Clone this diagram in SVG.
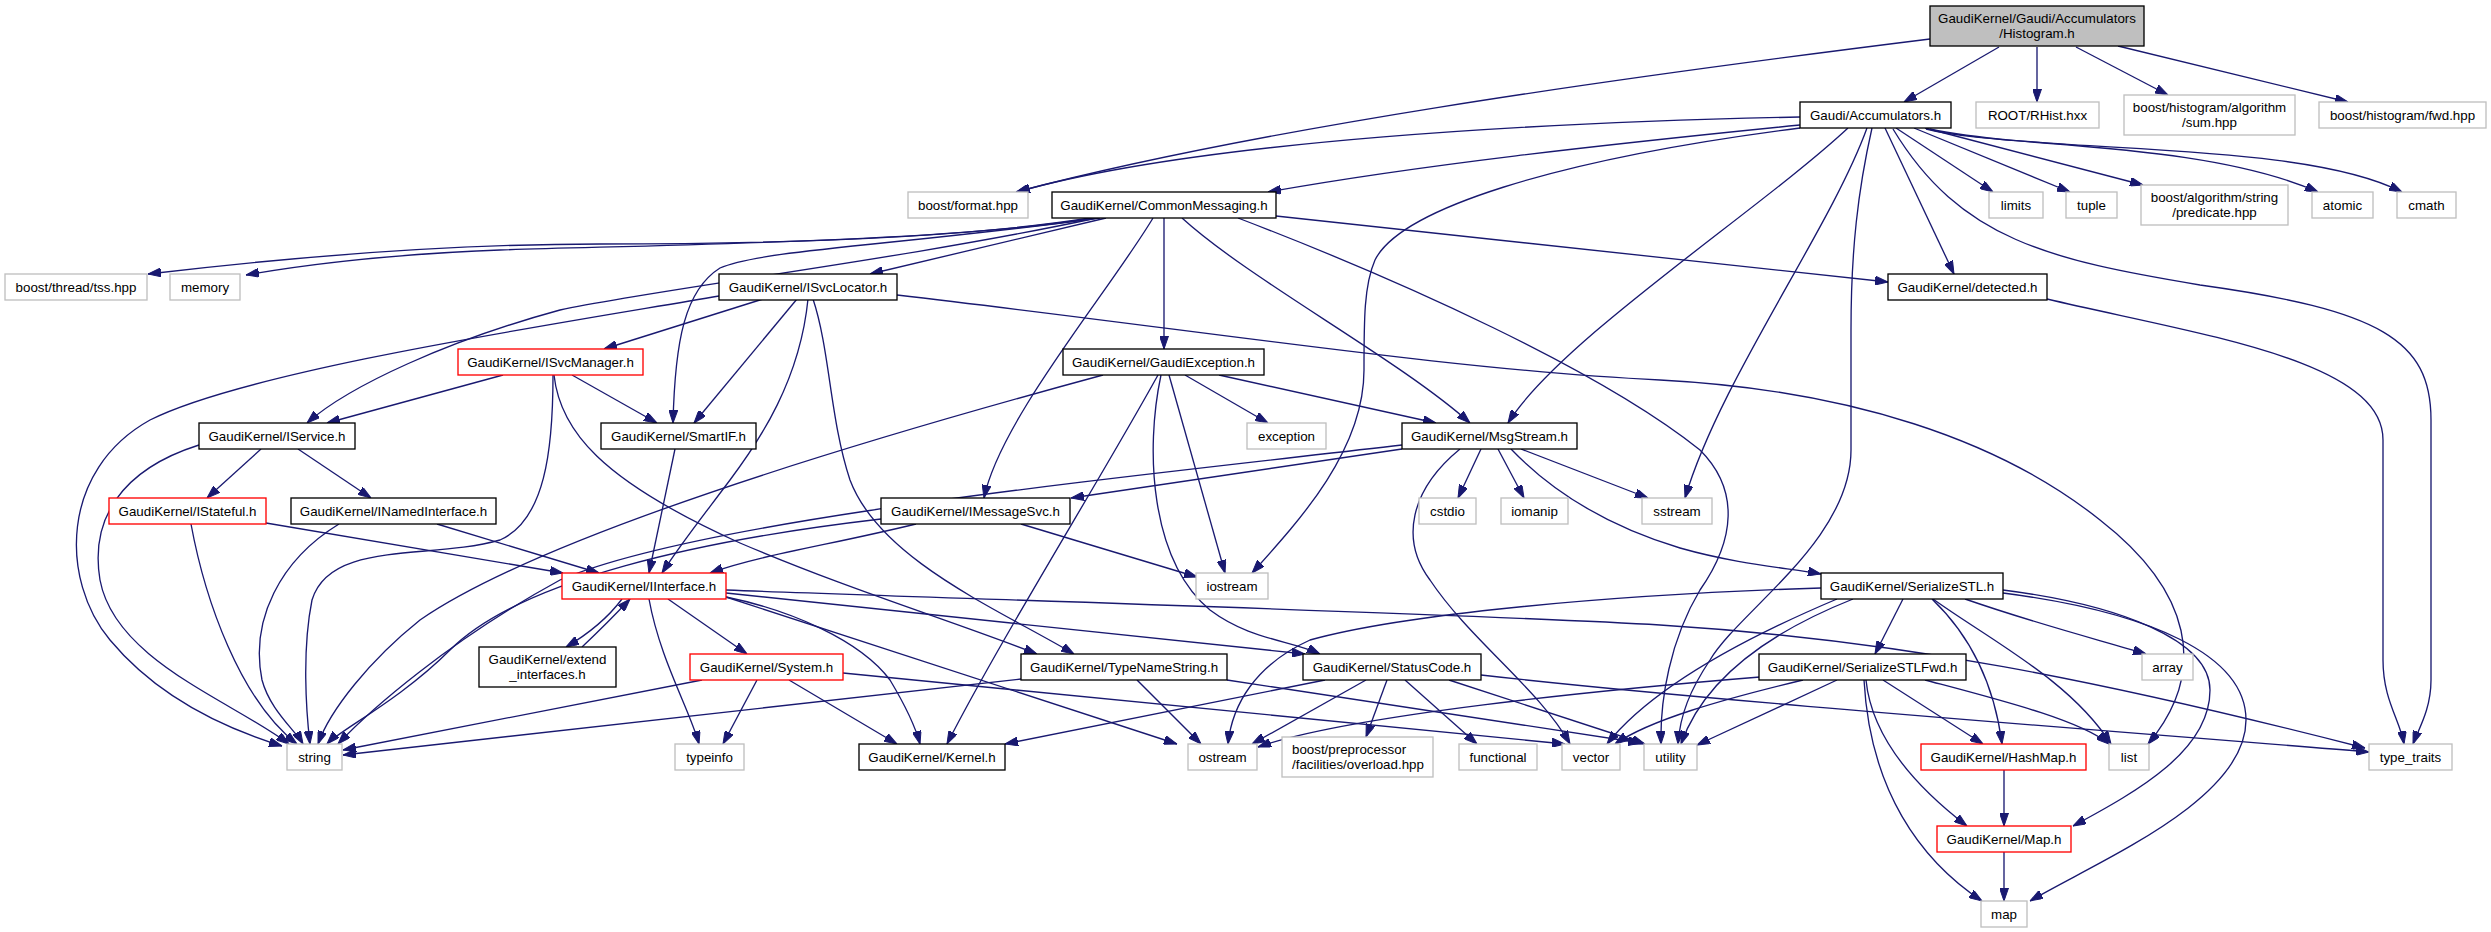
<svg xmlns="http://www.w3.org/2000/svg" width="2491" height="932" viewBox="0 0 2491 932">
<style>
.n rect{fill:#fff;stroke-width:1.33}
.b rect{stroke:#000}
.g rect{stroke:#bfbfbf}
.r rect{stroke:#f00}
.root rect{fill:#bfbfbf;stroke:#000}
text{font-family:"Liberation Sans",Arial,Helvetica,sans-serif;font-size:13.33px;fill:#000;text-anchor:middle}
.e path{fill:none;stroke:#191970;stroke-width:1.33;marker-end:url(#a)}
</style>
<defs>
<marker id="a" markerUnits="userSpaceOnUse" markerWidth="13" markerHeight="9" refX="13" refY="4.5" orient="auto">
<path d="M0,0 L13,4.5 L0,9 z" fill="#191970" stroke="#191970" stroke-width="1"/>
</marker>
</defs>
<rect width="2491" height="932" fill="#fff"/>
<g id="edges" class="e">
<path d="M1999,47 L1904,102"/>
<path d="M2037,47 L2037,102"/>
<path d="M2076,47 L2168,95"/>
<path d="M2118,46 L2348,102"/>
<path d="M1930,39 C1600,80 1250,130 1016,192"/>
<path d="M1800,117 C1550,122 1200,140 1017,192"/>
<path d="M1800,125 C1600,145 1420,165 1268,192"/>
<path d="M1800,128 C1550,160 1400,210 1375,260 C1364,285 1364,320 1364,370 C1364,450 1300,520 1252,573"/>
<path d="M1848,128 C1760,210 1560,340 1508,423"/>
<path d="M1867,128 C1830,230 1720,380 1685,498"/>
<path d="M1872,128 C1858,190 1851,250 1851,330 L1851,450 C1851,540 1740,610 1710,660 C1690,690 1680,715 1678,744"/>
<path d="M1885,128 L1954,274"/>
<path d="M1896,128 L1993,192"/>
<path d="M1914,128 L2070,192"/>
<path d="M1925,128 L2143,185"/>
<path d="M1926,129 C2000,148 2200,140 2318,192"/>
<path d="M1930,129 C2050,155 2300,140 2402,192"/>
<path d="M1893,129 C1960,240 2050,260 2200,285 C2380,310 2431,340 2431,420 L2431,680 C2431,710 2418,730 2413,744"/>
<path d="M2047,299 C2200,335 2383,360 2383,440 L2383,660 C2383,700 2400,720 2404,744"/>
<path d="M1090,218 C950,240 750,244 600,244 C450,244 300,256 148,274"/>
<path d="M1094,218 C950,242 650,245 500,250 C400,254 320,262 246,275"/>
<path d="M1097,218 C900,260 650,290 560,310 C450,340 350,385 307,423"/>
<path d="M1100,218 C900,245 760,250 720,268 C685,290 675,340 673,423"/>
<path d="M1106,218 L870,274"/>
<path d="M1153,218 C1110,290 1000,420 984,498"/>
<path d="M1164,218 L1164,349"/>
<path d="M1182,218 C1250,280 1400,360 1470,423"/>
<path d="M1238,218 C1400,280 1600,370 1700,450 C1740,490 1735,540 1700,590 C1670,640 1660,700 1661,744"/>
<path d="M1276,216 L1888,282"/>
<path d="M719,296 C550,325 250,370 150,420 C60,470 60,580 110,640 C160,700 230,730 282,746"/>
<path d="M763,299 L604,349"/>
<path d="M797,299 L694,423"/>
<path d="M808,299 C800,380 760,440 730,480 C700,520 680,545 662,573"/>
<path d="M813,299 C830,350 830,420 850,480 C880,560 1000,610 1074,654"/>
<path d="M897,295 C1200,330 1450,370 1660,380 C1850,390 2000,440 2100,520 C2190,590 2210,670 2148,744"/>
<path d="M503,375 L327,423"/>
<path d="M572,375 L657,423"/>
<path d="M553,375 C553,450 545,520 500,540 C430,560 330,540 312,600 C302,650 306,710 310,744"/>
<path d="M554,375 C560,430 600,480 740,543 C850,590 950,620 1037,654"/>
<path d="M1185,375 L1268,423"/>
<path d="M1219,375 L1436,423"/>
<path d="M1169,375 L1225,573"/>
<path d="M1103,375 C900,430 550,530 420,620 C370,660 330,710 318,744"/>
<path d="M1158,375 C1100,480 1000,640 947,744"/>
<path d="M1161,375 C1145,450 1150,560 1210,610 C1250,640 1290,640 1320,654"/>
<path d="M261,449 L207,498"/>
<path d="M298,449 L371,498"/>
<path d="M199,445 C120,470 90,520 100,580 C115,660 230,700 289,744"/>
<path d="M266,523 L563,573"/>
<path d="M191,524 C205,600 240,700 297,744"/>
<path d="M437,524 L599,573"/>
<path d="M339,524 C280,560 250,620 262,680 C270,710 295,730 303,744"/>
<path d="M675,449 L649,573"/>
<path d="M1402,449 L1071,498"/>
<path d="M1402,445 C1100,480 700,520 560,580 C450,640 370,710 338,744"/>
<path d="M1481,449 L1458,498"/>
<path d="M1498,449 L1524,498"/>
<path d="M1521,449 L1648,498"/>
<path d="M1511,449 C1560,500 1620,530 1680,548 C1740,565 1790,568 1821,574"/>
<path d="M1460,449 C1410,490 1400,540 1430,580 C1470,640 1540,690 1570,744"/>
<path d="M916,524 C830,545 760,555 710,573"/>
<path d="M1021,524 L1197,577"/>
<path d="M881,519 C700,540 520,580 450,650 C400,700 340,730 327,744"/>
<path d="M622,599 C610,615 595,630 566,647"/>
<path d="M582,647 C600,630 615,615 630,599"/>
<path d="M668,599 L747,654"/>
<path d="M649,599 C660,660 690,710 699,744"/>
<path d="M726,597 C790,610 860,640 890,680 C905,705 915,725 920,744"/>
<path d="M726,593 L1305,654"/>
<path d="M726,597 L1177,744"/>
<path d="M726,590 C1000,600 1500,615 1660,625 C1900,640 2100,680 2365,748"/>
<path d="M702,680 L343,750"/>
<path d="M757,680 L723,744"/>
<path d="M789,680 L897,744"/>
<path d="M843,673 L1565,744"/>
<path d="M1021,679 L343,755"/>
<path d="M1137,680 L1201,744"/>
<path d="M1227,680 L1641,743"/>
<path d="M1325,680 L1005,744"/>
<path d="M1366,680 L1252,744"/>
<path d="M1387,680 L1366,737"/>
<path d="M1405,680 L1477,744"/>
<path d="M1449,680 L1645,744"/>
<path d="M1481,675 C1700,700 2100,730 2369,752"/>
<path d="M1821,588 C1600,595 1400,615 1310,640 C1255,665 1232,705 1228,744"/>
<path d="M1903,599 L1875,654"/>
<path d="M1932,599 C1975,640 1995,690 2002,744"/>
<path d="M1933,599 C1990,640 2070,680 2111,744"/>
<path d="M1965,599 C2040,625 2100,640 2146,654"/>
<path d="M2003,590 C2120,605 2210,640 2210,690 C2210,750 2140,790 2073,826"/>
<path d="M2003,593 C2150,612 2246,655 2246,720 C2246,800 2100,860 2030,901"/>
<path d="M1837,599 C1740,640 1650,690 1607,744"/>
<path d="M1853,599 C1750,640 1700,690 1681,744"/>
<path d="M1837,680 L1697,745"/>
<path d="M1803,680 C1720,700 1650,720 1615,744"/>
<path d="M1760,677 C1600,690 1350,715 1258,747"/>
<path d="M1883,680 L1983,744"/>
<path d="M1925,680 C2000,700 2080,720 2109,744"/>
<path d="M1866,680 C1872,740 1920,790 1967,826"/>
<path d="M1864,680 C1870,790 1920,860 1982,901"/>
<path d="M2004,770 L2004,826"/>
<path d="M2004,852 L2004,901"/>
</g>
<g id="n_histogram" class="n root"><rect x="1930" y="6" width="214" height="40"/><text x="2037" y="22.5">GaudiKernel/Gaudi/Accumulators</text><text x="2037" y="37.5">/Histogram.h</text></g>
<g id="n_accumulators" class="n b"><rect x="1800" y="102" width="151" height="26"/><text x="1875.5" y="119.7">Gaudi/Accumulators.h</text></g>
<g id="n_rhist" class="n g"><rect x="1976" y="102" width="123" height="26"/><text x="2037.5" y="119.7">ROOT/RHist.hxx</text></g>
<g id="n_sum" class="n g"><rect x="2124" y="95" width="171" height="40"/><text x="2209.5" y="111.5">boost/histogram/algorithm</text><text x="2209.5" y="126.5">/sum.hpp</text></g>
<g id="n_fwd" class="n g"><rect x="2319" y="102" width="167" height="26"/><text x="2402.5" y="119.7">boost/histogram/fwd.hpp</text></g>
<g id="n_format" class="n g"><rect x="908" y="192" width="120" height="26"/><text x="968" y="209.7">boost/format.hpp</text></g>
<g id="n_commonmessaging" class="n b"><rect x="1052" y="192" width="224" height="26"/><text x="1164" y="209.7">GaudiKernel/CommonMessaging.h</text></g>
<g id="n_limits" class="n g"><rect x="1989" y="192" width="54" height="26"/><text x="2016" y="209.7">limits</text></g>
<g id="n_tuple" class="n g"><rect x="2066" y="192" width="51" height="26"/><text x="2091.5" y="209.7">tuple</text></g>
<g id="n_predicate" class="n g"><rect x="2141" y="185" width="147" height="40"/><text x="2214.5" y="201.5">boost/algorithm/string</text><text x="2214.5" y="216.5">/predicate.hpp</text></g>
<g id="n_atomic" class="n g"><rect x="2312" y="192" width="61" height="26"/><text x="2342.5" y="209.7">atomic</text></g>
<g id="n_cmath" class="n g"><rect x="2397" y="192" width="59" height="26"/><text x="2426.5" y="209.7">cmath</text></g>
<g id="n_tss" class="n g"><rect x="5" y="274" width="142" height="26"/><text x="76" y="291.7">boost/thread/tss.hpp</text></g>
<g id="n_memory" class="n g"><rect x="170" y="274" width="70" height="26"/><text x="205" y="291.7">memory</text></g>
<g id="n_isvclocator" class="n b"><rect x="719" y="274" width="178" height="26"/><text x="808" y="291.7">GaudiKernel/ISvcLocator.h</text></g>
<g id="n_detected" class="n b"><rect x="1888" y="274" width="159" height="26"/><text x="1967.5" y="291.7">GaudiKernel/detected.h</text></g>
<g id="n_isvcmanager" class="n r"><rect x="458" y="349" width="185" height="26"/><text x="550.5" y="366.7">GaudiKernel/ISvcManager.h</text></g>
<g id="n_gaudiexception" class="n b"><rect x="1063" y="349" width="201" height="26"/><text x="1163.5" y="366.7">GaudiKernel/GaudiException.h</text></g>
<g id="n_iservice" class="n b"><rect x="199" y="423" width="156" height="26"/><text x="277" y="440.7">GaudiKernel/IService.h</text></g>
<g id="n_smartif" class="n b"><rect x="601" y="423" width="155" height="26"/><text x="678.5" y="440.7">GaudiKernel/SmartIF.h</text></g>
<g id="n_exception" class="n g"><rect x="1247" y="423" width="79" height="26"/><text x="1286.5" y="440.7">exception</text></g>
<g id="n_msgstream" class="n b"><rect x="1402" y="423" width="175" height="26"/><text x="1489.5" y="440.7">GaudiKernel/MsgStream.h</text></g>
<g id="n_istateful" class="n r"><rect x="109" y="498" width="157" height="26"/><text x="187.5" y="515.7">GaudiKernel/IStateful.h</text></g>
<g id="n_inamedinterface" class="n b"><rect x="291" y="498" width="205" height="26"/><text x="393.5" y="515.7">GaudiKernel/INamedInterface.h</text></g>
<g id="n_imessagesvc" class="n b"><rect x="881" y="498" width="189" height="26"/><text x="975.5" y="515.7">GaudiKernel/IMessageSvc.h</text></g>
<g id="n_cstdio" class="n g"><rect x="1419" y="498" width="57" height="26"/><text x="1447.5" y="515.7">cstdio</text></g>
<g id="n_iomanip" class="n g"><rect x="1501" y="498" width="67" height="26"/><text x="1534.5" y="515.7">iomanip</text></g>
<g id="n_sstream" class="n g"><rect x="1642" y="498" width="70" height="26"/><text x="1677" y="515.7">sstream</text></g>
<g id="n_iinterface" class="n r"><rect x="562" y="573" width="164" height="26"/><text x="644" y="590.7">GaudiKernel/IInterface.h</text></g>
<g id="n_iostream" class="n g"><rect x="1196" y="573" width="72" height="26"/><text x="1232" y="590.7">iostream</text></g>
<g id="n_serializestl" class="n b"><rect x="1821" y="573" width="182" height="26"/><text x="1912" y="590.7">GaudiKernel/SerializeSTL.h</text></g>
<g id="n_extend" class="n b"><rect x="479" y="647" width="137" height="40"/><text x="547.5" y="663.5">GaudiKernel/extend</text><text x="547.5" y="678.5">_interfaces.h</text></g>
<g id="n_system" class="n r"><rect x="690" y="654" width="153" height="26"/><text x="766.5" y="671.7">GaudiKernel/System.h</text></g>
<g id="n_typenamestring" class="n b"><rect x="1021" y="654" width="206" height="26"/><text x="1124" y="671.7">GaudiKernel/TypeNameString.h</text></g>
<g id="n_statuscode" class="n b"><rect x="1303" y="654" width="178" height="26"/><text x="1392" y="671.7">GaudiKernel/StatusCode.h</text></g>
<g id="n_serializestlfwd" class="n b"><rect x="1759" y="654" width="207" height="26"/><text x="1862.5" y="671.7">GaudiKernel/SerializeSTLFwd.h</text></g>
<g id="n_array" class="n g"><rect x="2142" y="654" width="51" height="26"/><text x="2167.5" y="671.7">array</text></g>
<g id="n_string" class="n g"><rect x="287" y="744" width="55" height="26"/><text x="314.5" y="761.7">string</text></g>
<g id="n_typeinfo" class="n g"><rect x="675" y="744" width="69" height="26"/><text x="709.5" y="761.7">typeinfo</text></g>
<g id="n_kernel" class="n b"><rect x="859" y="744" width="146" height="26"/><text x="932" y="761.7">GaudiKernel/Kernel.h</text></g>
<g id="n_ostream" class="n g"><rect x="1188" y="744" width="69" height="26"/><text x="1222.5" y="761.7">ostream</text></g>
<g id="n_overload" class="n g"><rect x="1282" y="737" width="151" height="40"/><text x="1292" y="753.5" style="text-anchor:start">boost/preprocessor</text><text x="1292" y="768.5" style="text-anchor:start">/facilities/overload.hpp</text></g>
<g id="n_functional" class="n g"><rect x="1459" y="744" width="78" height="26"/><text x="1498" y="761.7">functional</text></g>
<g id="n_vector" class="n g"><rect x="1562" y="744" width="58" height="26"/><text x="1591" y="761.7">vector</text></g>
<g id="n_utility" class="n g"><rect x="1644" y="744" width="53" height="26"/><text x="1670.5" y="761.7">utility</text></g>
<g id="n_hashmap" class="n r"><rect x="1921" y="744" width="165" height="26"/><text x="2003.5" y="761.7">GaudiKernel/HashMap.h</text></g>
<g id="n_list" class="n g"><rect x="2109" y="744" width="40" height="26"/><text x="2129" y="761.7">list</text></g>
<g id="n_type_traits" class="n g"><rect x="2369" y="744" width="83" height="26"/><text x="2410.5" y="761.7">type_traits</text></g>
<g id="n_map_h" class="n r"><rect x="1937" y="826" width="134" height="26"/><text x="2004" y="843.7">GaudiKernel/Map.h</text></g>
<g id="n_map" class="n g"><rect x="1981" y="901" width="46" height="26"/><text x="2004" y="918.7">map</text></g>
</svg>
